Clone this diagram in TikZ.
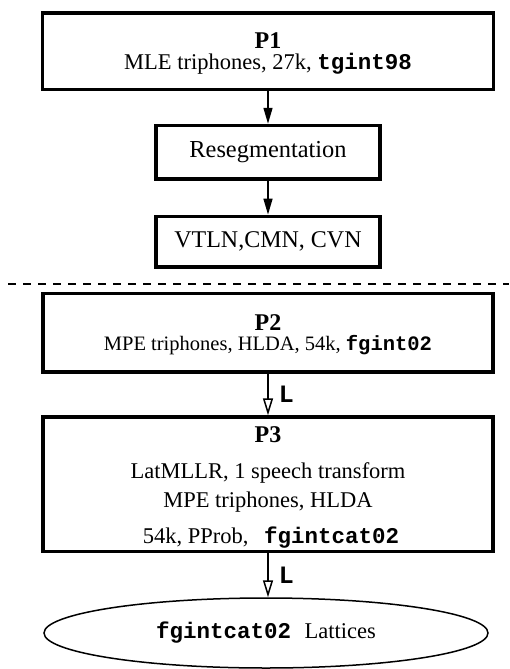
\documentclass[tikz,border=0pt]{standalone}
\usepackage{fontspec}
\setmainfont{Liberation Serif}
\setmonofont{Liberation Mono}
\usetikzlibrary{arrows.meta,shapes.geometric}

\newcommand{\code}[1]{\texttt{\bfseries #1}}
\newcommand{\headstrut}[1]{\rule{0pt}{#1}}

\begin{document}
\begin{tikzpicture}[x=1pt,y=-1pt,
  box/.style={draw, line width=3.5pt, inner sep=0pt, align=center,
              font=\fontsize{22.5}{21}\selectfont},
  flow/.style={line width=1.5pt, -{Triangle[length=16pt,width=9pt]}},
  lflow/.style={line width=1.5pt, -{Triangle[open,length=17pt,width=10pt,fill=white]}},
  lbl/.style={anchor=west, inner sep=0pt, xshift=10pt,
              font=\fontsize{25}{26}\selectfont\ttfamily\bfseries},
  sep/.style={line width=1.5pt, dash pattern=on 8pt off 7pt}
]
\useasboundingbox (0,0) rectangle (509,669);

% upper stage
\node[box, minimum width=451pt, minimum height=76.5pt] (p1) at (268,51.25)
  {{\fontsize{24}{21}\selectfont\bfseries P1}\headstrut{21pt}\\ MLE triphones, 27k, \code{tgint98}};
\node[box, minimum width=224pt, minimum height=53.5pt,
      font=\fontsize{24.4}{26}\selectfont] (reseg) at (268,152.25)
  {Resegmentation};
\node[box, minimum width=224pt, minimum height=50.7pt,
      font=\fontsize{24}{26}\selectfont] (norm) at (268,241.7)
  {VTLN,CMN, CVN};

\draw[flow] (p1) -- (reseg);
\draw[flow] (reseg) -- (norm);

% separator
\coordinate (sepl) at (8,284);
\coordinate (sepr) at (509,284);
\draw[sep] (sepl) -- (sepr);

% lower stage
\node[box, minimum width=450pt, minimum height=78.5pt] (p2) at (268,332.75)
  {{\fontsize{24}{21}\selectfont\bfseries P2}\headstrut{20pt}\\[-1pt]
   {\fontsize{20.5}{21}\selectfont MPE triphones, HLDA, 54k, \code{fgint02}}};
\node[box, minimum width=450pt, minimum height=134.5pt,
      font=\fontsize{22.5}{29.5}\selectfont] (p3) at (268,484.25)
  {{\fontsize{24}{29.5}\selectfont\bfseries P3}\headstrut{22pt}\\[6pt]
   LatMLLR, 1 speech transform\\ MPE triphones, HLDA\\[6pt]
   \hspace{6pt}54k, PProb,\hspace{0.7em}\code{fgintcat02}};
\node[ellipse, draw, line width=1.5pt, inner sep=0pt,
      minimum width=444pt, minimum height=70pt,
      font=\fontsize{22.5}{24}\selectfont] (lat) at (266,633)
  {\code{fgintcat02}\hspace{0.6em}Lattices};

\draw[lflow] (p2) -- node[lbl] {L} (p3);
\draw[lflow] (p3.south) -- node[lbl] {L} (p3.south |- lat.north);
\end{tikzpicture}
\end{document}
